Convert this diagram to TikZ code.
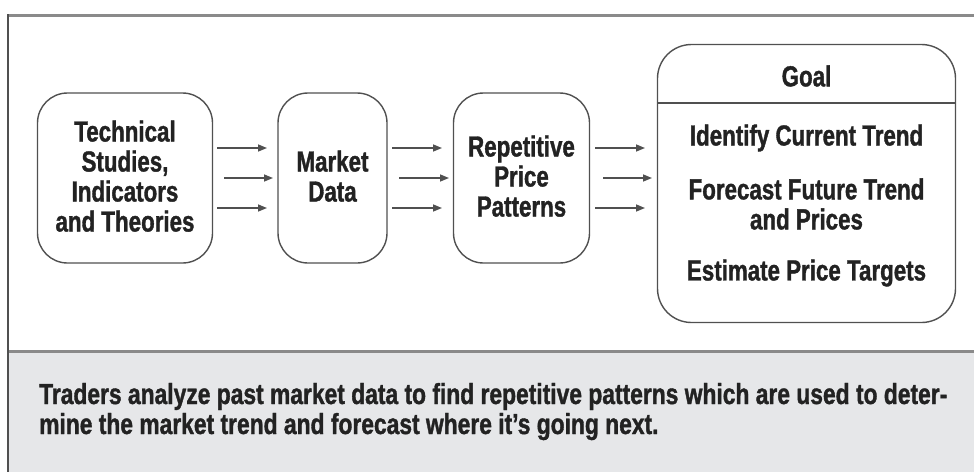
\documentclass[tikz,border=0pt]{standalone}
\usepackage{fontspec}
\setmainfont{Liberation Sans}[FakeStretch=0.77, BoldFeatures={FakeBold=1.2}]
\newfontfamily\capfont{Liberation Sans}[FakeStretch=0.787, BoldFeatures={FakeBold=1.2}]
\usetikzlibrary{arrows.meta}
\definecolor{txt}{HTML}{222222}
\definecolor{edge}{HTML}{505050}
\definecolor{rule}{HTML}{8A8A8A}
\definecolor{panel}{HTML}{E6E7E9}
\tikzset{
  stepbox/.style={draw=edge, line width=1.4pt, rounded corners=30pt, text=txt,
    font=\fontsize{29}{30}\selectfont\bfseries, align=center, inner sep=0pt},
  flow/.style={draw=edge, line width=1.5pt, -{Triangle[length=9pt,width=7pt]}},
  lbl/.style={text=txt, font=\fontsize{29}{30}\selectfont\bfseries, align=center, inner sep=0pt}
}
\begin{document}
\begin{tikzpicture}[x=1pt,y=-1pt]
\useasboundingbox (0,0) rectangle (974,472);
% bottom panel
\fill[panel] (8,351) rectangle (974,472);
\draw[rule, line width=3pt] (8,351) -- (974,351);
\draw[rule, line width=3pt] (8,15) -- (974,15);
\draw[edge, line width=2pt] (8,14) -- (8,472);
% boxes
\node[stepbox, minimum width=175pt, minimum height=170pt, text depth=4pt] (b1) at (125,178)
  {Technical\\Studies,\\Indicators\\and Theories};
\node[stepbox, minimum width=109pt, minimum height=170pt, text depth=4pt] (b2) at (332.5,178)
  {Market\\Data};
\node[stepbox, minimum width=136pt, minimum height=170pt, text depth=4pt] (b3) at (521.5,178)
  {Repetitive\\Price\\Patterns};
\node[stepbox, rounded corners=34pt, minimum width=298pt, minimum height=278pt] (g) at (806.5,183.5) {};
\draw[edge, line width=1.4pt] (g.west |- 0,103) -- (g.east |- 0,103);
\node[lbl] (goal) at (806.5,76) {Goal};
\node[lbl] (t1) at (806.5,138) {Identify Current Trend};
\node[lbl] (t2) at (806.5,204) {Forecast Future Trend\\and Prices};
\node[lbl] (t3) at (806.5,273) {Estimate Price Targets};
% arrow ends
\foreach \n/\xa/\xb/\xc/\xd in {a/217/267/224/273, b/392/442/399/449, c/595/645/603/652}{
  \coordinate (\n1s) at (\xa,148); \coordinate (\n1e) at (\xb,148);
  \coordinate (\n2s) at (\xc,178); \coordinate (\n2e) at (\xd,178);
  \coordinate (\n3s) at (\xa,208); \coordinate (\n3e) at (\xb,208);
  \draw[flow] (\n1s) -- (\n1e);
  \draw[flow] (\n2s) -- (\n2e);
  \draw[flow] (\n3s) -- (\n3e);
}
% caption
\node[text=txt, font=\capfont\fontsize{29}{30}\selectfont\bfseries, align=left, anchor=base west, inner sep=0pt] (cap) at (39,434)
  {Traders analyze past market data to find repetitive patterns which are used to deter-\\mine the market trend and forecast where it’s going next.};
\end{tikzpicture}
\end{document}
